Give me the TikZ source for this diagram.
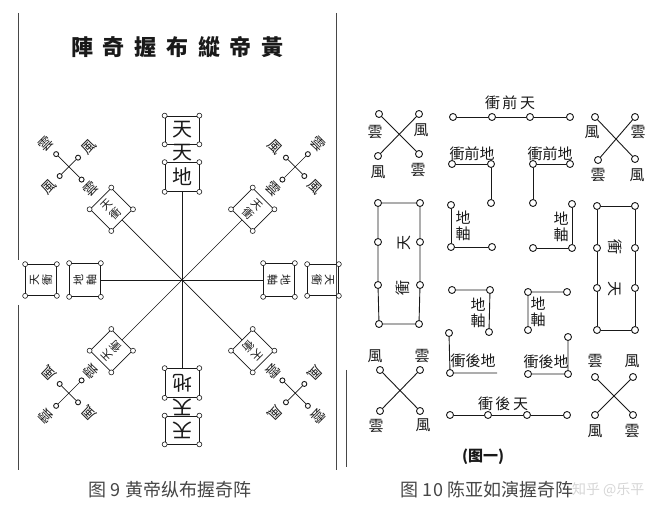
\documentclass[tikz,border=0pt]{standalone}
\usepackage{fontspec}
\newfontfamily\fanti{Noto Sans CJK TC}
\newfontfamily\jianti{Noto Sans CJK SC}
\usetikzlibrary{positioning}
\definecolor{mo}{RGB}{25,25,25}
\definecolor{huise}{RGB}{70,70,70}
\tikzset{
  zi/.style={font=\fanti\fontsize{#1}{#1}\selectfont,text=mo,inner sep=0pt},
  zi/.default=14,
  biaoti/.style={font=\fanti\bfseries\fontsize{22}{22}\selectfont,text=mo,inner sep=0pt},
  tizhu/.style={font=\jianti\fontsize{18}{18}\selectfont,text=huise,inner sep=0pt},
  ring/.style={circle,draw=mo,fill=white,line width=0.9pt,inner sep=0pt,minimum size=#1},
  ring/.default=7,
  jiao/.style={ring=5,line width=0.6pt},
  kuang/.style={draw=mo,line width=0.7pt,inner sep=0pt,align=center,
    append after command={foreach \c in {north west,north east,south east,south west}{node[jiao] at (\tikzlastnode.\c) {}}}},
  xian/.style={draw=mo,line width=0.9pt},
  bian/.style={draw=mo!80,line width=1pt},
  % arms of the left figure
  pics/zheng/.style={code={
    \coordinate (-o) at (0,0);
    \node[kuang,zi=20,minimum width=34,minimum height=29] (-di) at (0,103) {地};
    \node[zi=20] (-mid) at (0,127) {天};
    \node[kuang,zi=20,minimum width=34,minimum height=28] (-tian) at (0,150) {天};
    \draw[xian,line width=0.7pt] (-o) -- (-di);
  }},
  pics/heng/.style={code={
    \coordinate (-o) at (0,0);
    \node[kuang,zi=11,minimum width=33,minimum height=31] (-zhou) at (0,97) {地\\[2pt]軸};
    \node[kuang,zi=11,minimum width=31,minimum height=31] (-chong) at (0,141) {天\\[2pt]衝};
    \draw[xian,line width=0.7pt] (-o) -- (-zhou);
  }},
  pics/xie/.style={code={
    \coordinate (-o) at (0,0);
    \node[kuang,zi=11,minimum size=30] (-chong) at (0,100) {天\\[2pt]衝};
    \node[zi] (-yun) at (0,129) {雲};
    \node[ring=5] (-a) at (0,142) {};
    \node[ring=5] (-b) at (0,178) {};
    \node[ring=5] (-c) at (-13,160) {};
    \node[ring=5] (-d) at (13,160) {};
    \node[zi] (-ya) at (0,192) {雲};
    \node[zi] (-fc) at (-28,160) {風};
    \node[zi] (-fd) at (28,160) {風};
    \draw[xian,line width=0.7pt] (-o) -- (-chong) (-a) -- (-b) (-c) -- (-d);
  }},
}
\begin{document}
\begin{tikzpicture}[x=1pt,y=1pt]
  \useasboundingbox[fill=white] (0,0) rectangle (661,516);
  % left figure
  \draw[bian] (18,503) -- (18,256) (18,211) -- (18,46);
  \draw[bian] (336,503) -- (336,46);
  \foreach \z [count=\i] in {陣,奇,握,布,縱,帝,黃}
    \node[biaoti] (bt\i) at (50.5+31.7*\i,469) {\z};
  \coordinate (zx) at (182,236);
  \pic[transform shape] (n) at (zx) {zheng};
  \pic[rotate=180,transform shape] (s) at (zx) {zheng};
  \pic[rotate=90,transform shape] (w) at (zx) {heng};
  \pic[rotate=-90,transform shape] (e) at (zx) {heng};
  \foreach \a/\m in {45/nw,-45/ne,135/sw,-135/se}
    \pic[rotate=\a,transform shape] (\m) at (zx) {xie};
  \node[tizhu] (tu9) at (170,26) {图 9\ 黄帝纵布握奇阵};
  % right figure
  \draw[bian] (346,146) -- (346,49);
  \foreach \n/\x/\y in {t1/453/399,t2/492/399,t3/530/399,t4/570/399,
      a1/379/402,a2/419/402,a3/378/360,a4/419/362,
      b1/595/399,b2/635/399,b3/598/356,b4/635/357,
      c1/452/352,c2/491/352,c3/491/313,d1/533/352,d2/570/352,d3/533/313,
      e1/451/311,e2/451/269,e3/492/269,f1/572/312,f2/572/268,f3/533/268,
      g1/452/226,g2/490/226,g3/489/184,h1/528/224,h2/567/224,h3/528/186,
      i1/449/183,i2/450/143,j1/568/179,j2/568/142,j3/528/142,
      k1/450/101,k2/488/101,k3/527/101,k4/567/101,
      m1/380/146,m2/420/146,m3/380/105,m4/420/105,
      n1/595/139,n2/633/139,n3/595/101,n4/633/101,
      p1/378/313,p2/420/313,p3/378/274,p4/420/274,p5/378/231,p6/420/231,p7/379/192,p8/419/192,
      q1/597/310,q2/635/310,q3/597/268,q4/635/268,q5/597/228,q6/635/228,q7/597/186,q8/635/186}
    \node[ring] (\n) at (\x,\y) {};
  \coordinate (i3) at (497,143);
  \draw[xian] (t1) -- (t2) -- (t3) -- (t4);
  \draw[xian] (k1) -- (k2) -- (k3) -- (k4);
  \draw[xian] (a1) -- (a4) (a2) -- (a3) (b1) -- (b4) (b2) -- (b3);
  \draw[xian] (m1) -- (m4) (m2) -- (m3) (n1) -- (n4) (n2) -- (n3);
  \draw[xian] (c1) -- (c2) -- (c3) (d2) -- (d1) -- (d3);
  \draw[xian] (e1) -- (e2) -- (e3) (f1) -- (f2) -- (f3);
  \draw[xian] (g1) -- (g2) -- (g3) (h2) -- (h1) -- (h3);
  \draw[xian] (i1) -- (i2) -- (i3) (j1) -- (j2) -- (j3);
  \draw[xian] (p1) -- (p2) (p1) -- (p3) -- (p5) -- (p7) -- (p8) -- (p6) -- (p4) -- (p2);
  \draw[xian] (q1) -- (q2) (q1) -- (q3) -- (q5) -- (q7) -- (q8) -- (q6) -- (q4) -- (q2);
  \foreach \n/\x/\y/\z in {qt/510/413/衝\,前\,天,ht/503/112/衝\,後\,天,
      qd1/472/362/衝前地,qd2/550/362/衝前地,hd1/473/155/衝後地,hd2/546/154/衝後地,
      la1/375/384/雲,la2/421/386/風,la3/378/344/風,la4/418/346/雲,
      lb1/592/384/風,lb2/638/384/雲,lb3/598/341/雲,lb4/637/341/風,
      lm1/375/160/風,lm2/422/160/雲,lm3/376/90/雲,lm4/423/91/風,
      ln1/595/155/雲,ln2/632/155/風,ln3/595/85/風,ln4/632/85/雲,
      ze1/463/298/地,ze2/463/282/軸,zf1/561/297/地,zf2/561/281/軸,
      zg1/478/211/地,zg2/478/195/軸,zh1/538/212/地,zh2/538/196/軸}
    \node[zi=15] (\n) at (\x,\y) {\z};
  \node[zi=15,rotate=90] (zp1) at (404,273) {天};
  \node[zi=15,rotate=90] (zp2) at (403,228) {衝};
  \node[zi=15,rotate=-90] (zq1) at (615,269) {衝};
  \node[zi=15,rotate=-90] (zq2) at (615,227) {天};
  \node[font=\jianti\bfseries\fontsize{15}{15}\selectfont,text=mo] (tuyi) at (483,59) {(图一)};
  \node[tizhu] (tu10) at (487,26) {图 10\ 陈亚如演握奇阵};
  \node[font=\jianti\fontsize{14}{14}\selectfont,text=gray!40,opacity=0.8,anchor=east] (shuiyin) at (648,26) {知乎 @乐平};
\end{tikzpicture}
\end{document}
